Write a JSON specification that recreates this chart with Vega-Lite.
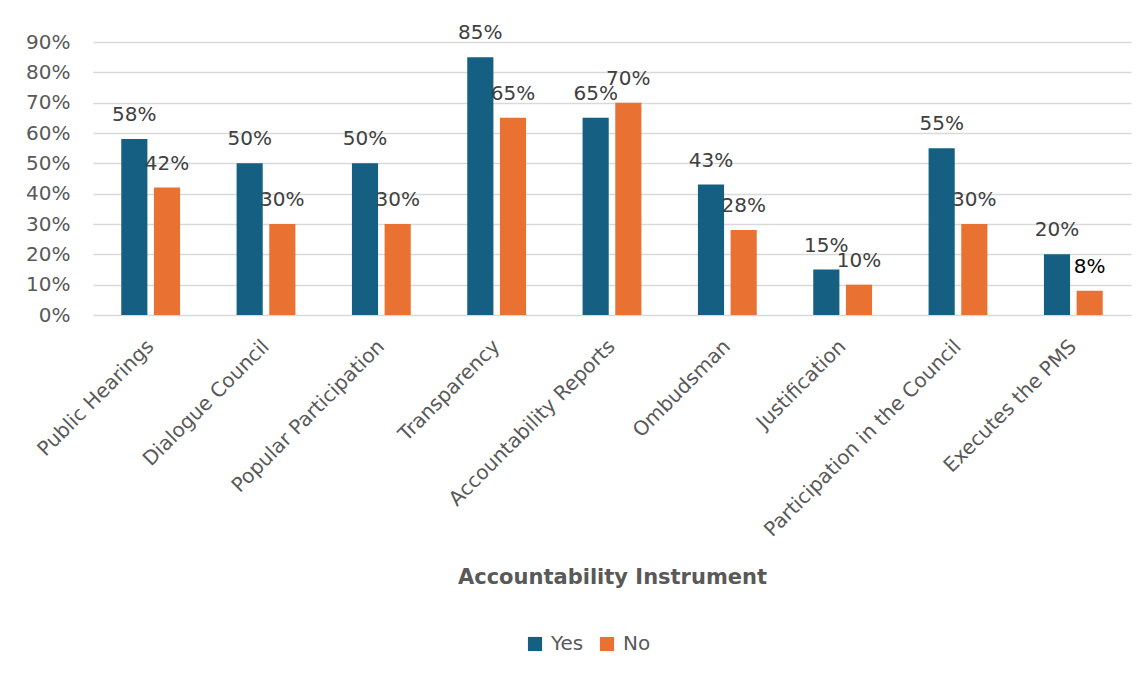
{
  "$schema": "https://vega.github.io/schema/vega-lite/v6.json",
  "autosize": {"type": "none"},
  "width": 1038,
  "height": 273,
  "padding": {"left": 93, "top": 42, "right": 16, "bottom": 362},
  "background": "white",
  "config": {
    "font": "DejaVu Sans",
    "view": {"stroke": null}
  },
  "data": {
    "values": [
      {"instrument": "Public Hearings", "group": "Yes", "value": 0.58},
      {"instrument": "Public Hearings", "group": "No", "value": 0.42},
      {"instrument": "Dialogue Council", "group": "Yes", "value": 0.50},
      {"instrument": "Dialogue Council", "group": "No", "value": 0.30},
      {"instrument": "Popular Participation", "group": "Yes", "value": 0.50},
      {"instrument": "Popular Participation", "group": "No", "value": 0.30},
      {"instrument": "Transparency", "group": "Yes", "value": 0.85},
      {"instrument": "Transparency", "group": "No", "value": 0.65},
      {"instrument": "Accountability Reports", "group": "Yes", "value": 0.65},
      {"instrument": "Accountability Reports", "group": "No", "value": 0.70},
      {"instrument": "Ombudsman", "group": "Yes", "value": 0.43},
      {"instrument": "Ombudsman", "group": "No", "value": 0.28},
      {"instrument": "Justification", "group": "Yes", "value": 0.15},
      {"instrument": "Justification", "group": "No", "value": 0.10},
      {"instrument": "Participation in the Council", "group": "Yes", "value": 0.55},
      {"instrument": "Participation in the Council", "group": "No", "value": 0.30},
      {"instrument": "Executes the PMS", "group": "Yes", "value": 0.20},
      {"instrument": "Executes the PMS", "group": "No", "value": 0.08}
    ]
  },
  "encoding": {
    "x": {
      "field": "instrument",
      "type": "nominal",
      "sort": null,
      "scale": {"paddingInner": 0.49, "paddingOuter": 0.245},
      "axis": {
        "title": "Accountability Instrument",
        "titleFontSize": 21,
        "titleFontWeight": "bold",
        "titleColor": "#595959",
        "titleY": 251,
        "labelAngle": -45,
        "labelAlign": "right",
        "labelBaseline": "middle",
        "labelFontSize": 20,
        "labelColor": "#595959",
        "labelPadding": 28,
        "labelLimit": 400,
        "ticks": false,
        "domain": false,
        "grid": false
      }
    },
    "xOffset": {
      "field": "group",
      "type": "nominal",
      "sort": ["Yes", "No"],
      "scale": {"paddingInner": 0.2}
    },
    "y": {
      "field": "value",
      "type": "quantitative",
      "scale": {"domain": [0, 0.9]},
      "axis": {
        "title": null,
        "format": ".0%",
        "values": [0, 0.1, 0.2, 0.3, 0.4, 0.5, 0.6, 0.7, 0.8, 0.9],
        "labelFontSize": 20,
        "labelColor": "#595959",
        "labelPadding": 23,
        "ticks": false,
        "domain": false,
        "gridColor": "#d9d9d9",
        "gridWidth": 1.5
      }
    }
  },
  "layer": [
    {
      "mark": {"type": "bar"},
      "encoding": {
        "color": {
          "field": "group",
          "type": "nominal",
          "sort": ["Yes", "No"],
          "scale": {"domain": ["Yes", "No"], "range": ["#156082", "#E97132"]},
          "legend": {
            "title": null,
            "orient": "none",
            "direction": "horizontal",
            "legendX": 432,
            "legendY": 592,
            "symbolType": "square",
            "symbolSize": 200,
            "symbolStrokeWidth": 0,
            "labelFontSize": 20,
            "labelColor": "#595959",
            "labelOffset": 6,
            "columnPadding": 13
          }
        }
      }
    },
    {
      "mark": {"type": "text", "fontSize": 20, "baseline": "alphabetic", "dy": -18},
      "encoding": {
        "text": {"field": "value", "type": "quantitative", "format": ".0%"},
        "color": {
          "condition": {"test": "datum.group == 'No' && datum.value == 0.08", "value": "#000000"},
          "value": "#404040"
        }
      }
    }
  ]
}
